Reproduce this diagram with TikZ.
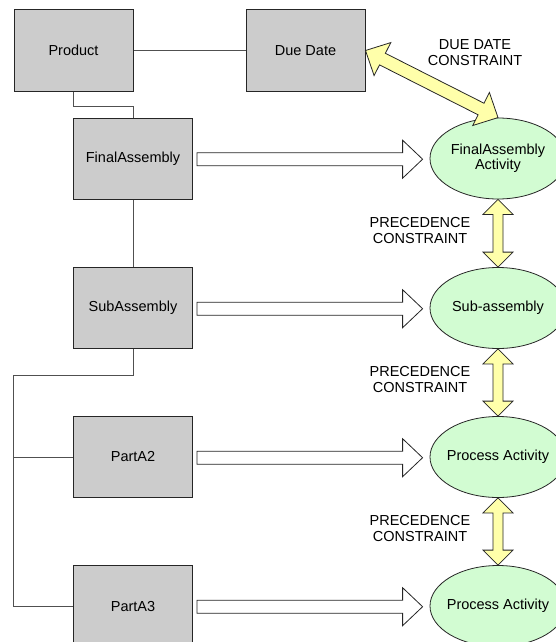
\documentclass[tikz,border=0pt]{standalone}
\usepackage{fontspec}
\setmainfont{Liberation Sans}
\usetikzlibrary{calc,shapes.geometric}
\definecolor{boxgray}{RGB}{204,204,204}
\definecolor{actgreen}{RGB}{210,252,210}
\definecolor{arryellow}{RGB}{255,255,170}
\definecolor{linegray}{RGB}{80,80,80}
\newcommand{\zw}[1]{\makebox[0pt]{#1}}
\newcommand{\dblblock}[6]{%
  \path (#1) coordinate (bkA) (#2) coordinate (bkB);
  \coordinate (bkP) at ($(bkA)!#5!(bkB)$);
  \coordinate (bkQ) at ($(bkB)!#5!(bkA)$);
  \draw[#6] (bkA) -- ($(bkP)!#4!90:(bkB)$) -- ($(bkP)!#3!90:(bkB)$)
    -- ($(bkQ)!#3!90:(bkB)$) -- ($(bkQ)!#4!90:(bkB)$) -- (bkB)
    -- ($(bkQ)!#4!-90:(bkB)$) -- ($(bkQ)!#3!-90:(bkB)$)
    -- ($(bkP)!#3!-90:(bkB)$) -- ($(bkP)!#4!-90:(bkB)$) -- cycle;
}
\newcommand{\sglblock}[6]{%
  \path (#1) coordinate (bkA) (#2) coordinate (bkB);
  \coordinate (bkQ) at ($(bkB)!#5!(bkA)$);
  \draw[#6] ($(bkA)!#3!90:(bkB)$) -- ($(bkQ)!#3!90:(bkB)$)
    -- ($(bkQ)!#4!90:(bkB)$) -- (bkB)
    -- ($(bkQ)!#4!-90:(bkB)$) -- ($(bkQ)!#3!-90:(bkB)$)
    -- ($(bkA)!#3!-90:(bkB)$) -- cycle;
}
\tikzset{
  every node/.style={font=\fontsize{14.5}{16}\selectfont},
  partbox/.style={draw=black!85, line width=1pt, fill=boxgray, rectangle,
    minimum width=119pt, minimum height=81pt, inner sep=0pt},
  activity/.style={draw=black!85, line width=0.8pt, fill=actgreen, ellipse,
    minimum width=136pt, minimum height=81pt, inner sep=0pt},
  conn/.style={draw=linegray, line width=1pt},
  hollowarrow/.style={draw=black!85, line width=0.8pt, fill=white, line join=miter},
  yellowarrow/.style={draw=black!85, line width=0.8pt, fill=arryellow, line join=miter},
  lbl/.style={align=center, inner sep=0pt}
}
\begin{document}
\begin{tikzpicture}[x=1pt,y=-1pt]
\useasboundingbox (0,0) rectangle (556,642);
% part boxes
\node[partbox] (prod) at (73.5,50.5) {Product};
\node[partbox] (dd)   at (305.5,50.5) {Due Date};
\node[partbox] (fa)   at (133,158.5) {FinalAssembly};
\node[partbox] (sa)   at (133,308) {SubAssembly};
\node[partbox] (p2)   at (133,457) {PartA2};
\node[partbox] (p3)   at (133,606) {PartA3};
% activities
\node[activity] (e1) at (498,158.5) {\zw{\begin{tabular}{@{}c@{}}FinalAssembly\\[-1pt]Activity\end{tabular}}};
\node[activity] (e2) at (498,308) {\zw{Sub-assembly}};
\node[activity] (e3) at (498,457) {\zw{Process Activity}};
\node[activity] (e4) at (498,606) {\zw{Process Activity}};
% labels
\node[lbl] (ddc) at (475,53) {DUE DATE\\CONSTRAINT};
\node[lbl] (pc1) at (420,231) {PRECEDENCE\\CONSTRAINT};
\node[lbl] (pc2) at (420,380) {PRECEDENCE\\CONSTRAINT};
\node[lbl] (pc3) at (420,529) {PRECEDENCE\\CONSTRAINT};
% tree connectors
\coordinate (bus) at (13.5,375);
\draw[conn] (prod.east) -- (dd.west);
\draw[conn] (prod.south) -- ++(0,15) -| (fa.north);
\draw[conn] (fa.south) -- (sa.north);
\draw[conn] (sa.south) |- (bus) |- (p3.west);
\draw[conn] (p2.west) -- (p2.west -| bus);
% hollow mapping arrows
\coordinate (h1s) at ($(fa.east)+(4,0.7)$);  \coordinate (h1e) at ($(e1.west)+(-7,0.7)$);
\coordinate (h2s) at ($(sa.east)+(4,0.7)$);  \coordinate (h2e) at ($(e2.west)+(-7,0.7)$);
\coordinate (h3s) at ($(p2.east)+(4,0.7)$);  \coordinate (h3e) at ($(e3.west)+(-7,0.7)$);
\coordinate (h4s) at ($(p3.east)+(4,0.7)$);  \coordinate (h4e) at ($(e4.west)+(-7,0.7)$);
\sglblock{h1s}{h1e}{6.5pt}{19pt}{20pt}{hollowarrow}
\sglblock{h2s}{h2e}{6.5pt}{19pt}{20pt}{hollowarrow}
\sglblock{h3s}{h3e}{6.5pt}{19pt}{20pt}{hollowarrow}
\sglblock{h4s}{h4e}{6.5pt}{19pt}{20pt}{hollowarrow}
% yellow constraint arrows
\dblblock{dd.east}{e1.north}{6.5pt}{18.5pt}{19pt}{yellowarrow}
\dblblock{e1.south}{e2.north}{5pt}{15pt}{15pt}{yellowarrow}
\dblblock{e2.south}{e3.north}{5pt}{15pt}{15pt}{yellowarrow}
\dblblock{e3.south}{e4.north}{5pt}{15pt}{15pt}{yellowarrow}
\end{tikzpicture}
\end{document}
